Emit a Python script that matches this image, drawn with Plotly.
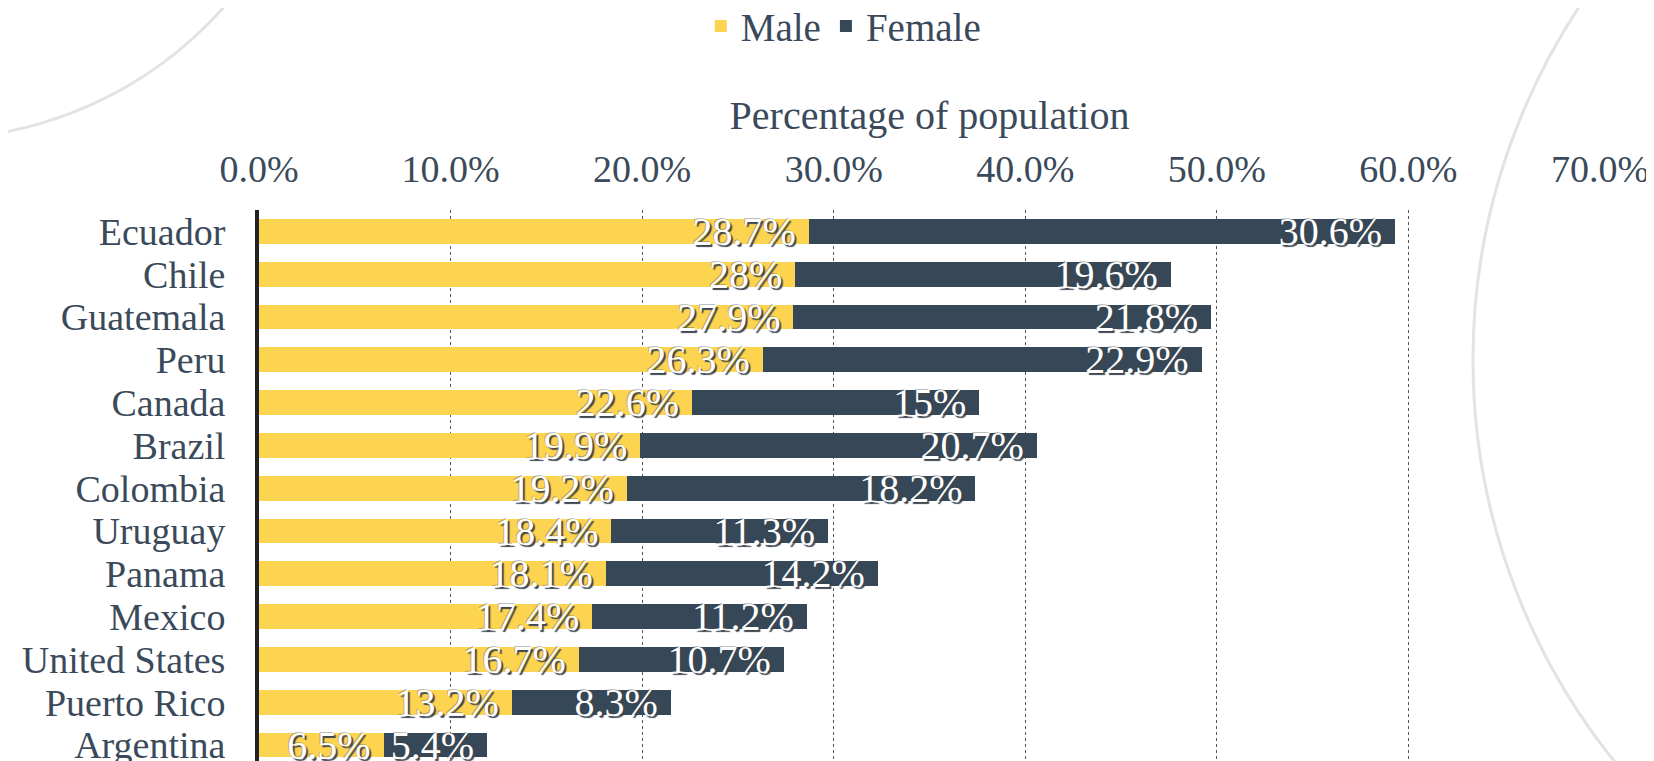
import plotly.graph_objects as go

countries = [
    "Ecuador", "Chile", "Guatemala", "Peru", "Canada", "Brazil", "Colombia",
    "Uruguay", "Panama", "Mexico", "United States", "Puerto Rico", "Argentina",
]
male = [28.7, 28, 27.9, 26.3, 22.6, 19.9, 19.2, 18.4, 18.1, 17.4, 16.7, 13.2, 6.5]
female = [30.6, 19.6, 21.8, 22.9, 15, 20.7, 18.2, 11.3, 14.2, 11.2, 10.7, 8.3, 5.4]
x_ticks = [0, 10, 20, 30, 40, 50, 60, 70]
x_tick_labels = ["0.0%", "10.0%", "20.0%", "30.0%", "40.0%", "50.0%", "60.0%", "70.0%"]

FONT = "Liberation Serif"
TEXT_COLOR = "#3a4a5a"
SHADOW = "2px 2px 1px #3d4650, -1px -1px 0 rgba(60,70,80,0.35)"

W, H = 1654, 761
L, R, T, B = 251, 62, 202, 0
PW, PH = W - L - R, H - T - B


def _arc(cx, cy, r):
    """Decorative background circle, given in figure pixels."""
    return dict(
        type="circle",
        xref="paper",
        yref="paper",
        x0=(cx - r - L) / PW,
        x1=(cx + r - L) / PW,
        y0=1 - (cy + r - T) / PH,
        y1=1 - (cy - r - T) / PH,
        line=dict(color="#e2e3e6", width=3),
        layer="below",
    )


fig = go.Figure()
for name, values, color in [("Male", male, "#fdd44f"), ("Female", female, "#364857")]:
    fig.add_trace(
        go.Bar(
            name=name,
            y=countries,
            x=values,
            orientation="h",
            marker_color=color,
            marker_line_width=0,
            text=[f"{v:g}%\u00a0" for v in values],
            textposition="inside",
            insidetextanchor="end",
            constraintext="none",
            textangle=0,
            textfont=dict(family=FONT, size=40, color="white", shadow=SHADOW),
            width=0.58,
            hoverinfo="x+y+name",
        )
    )

fig.update_layout(
    width=W,
    height=H,
    barmode="stack",
    plot_bgcolor="rgba(0,0,0,0)",
    paper_bgcolor="white",
    font=dict(family=FONT, size=38, color=TEXT_COLOR),
    margin=dict(l=L, r=R, t=T, b=B, autoexpand=False),
    showlegend=True,
    legend=dict(
        orientation="h",
        xref="container",
        yref="container",
        x=0.505,
        y=0.976,
        xanchor="center",
        yanchor="middle",
        font=dict(size=39),
        itemwidth=30,
        traceorder="normal",
    ),
    shapes=[_arc(-77, -260, 391), _arc(2105, 352, 640)],
    xaxis=dict(
        side="top",
        range=[0, 70],
        tickmode="array",
        tickvals=x_ticks,
        ticktext=x_tick_labels,
        showgrid=True,
        gridcolor="#555555",
        griddash="dot",
        gridwidth=1,
        zeroline=False,
        ticks="outside",
        ticklen=12,
        tickcolor="rgba(0,0,0,0)",
        automargin=False,
        title=dict(text="Percentage of population", standoff=5, font=dict(size=40)),
        fixedrange=True,
    ),
    yaxis=dict(
        range=[12.56, -0.5],
        tickmode="array",
        tickvals=countries,
        ticktext=countries,
        showline=True,
        linecolor="#222222",
        linewidth=4,
        showgrid=False,
        ticks="outside",
        ticklen=22,
        tickcolor="rgba(0,0,0,0)",
        tickfont=dict(size=38),
        automargin=False,
    ),
)

fig.write_html("out.html")
